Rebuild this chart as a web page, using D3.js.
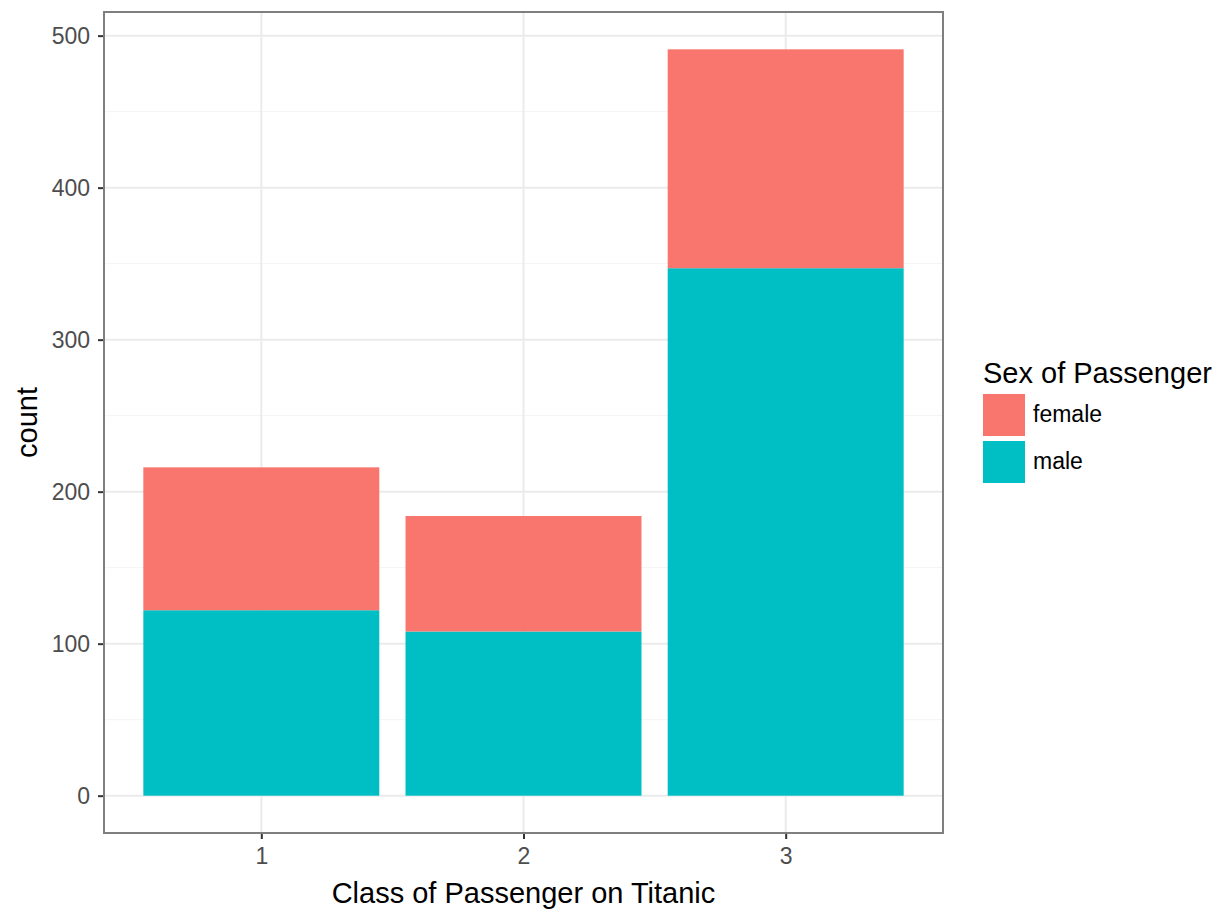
<!DOCTYPE html>
<html lang="en">
<head>
  <meta charset="UTF-8">
  <title>Titanic class by sex</title>
  <script src="https://cdn.jsdelivr.net/npm/d3@7"></script>
  <style>
    body { margin: 0; background: #fff; }
    text { font-family: "Liberation Sans", Arial, Helvetica, sans-serif; }
  </style>
</head>
<body>
  <svg id="chart"></svg>
  <script>
    // data
    var classes = ["1", "2", "3"];
    var sexes = ["female", "male"];
    var femaleCounts = [94, 76, 144];
    var maleCounts = [122, 108, 347];
    var yTicks = [0, 100, 200, 300, 400, 500];
    var colors = ["#F8766D", "#00BFC4"];

    var width = 1228, height = 921;
    var panel = { left: 104, right: 943, top: 12, bottom: 833 };
    var titleSize = "29px", textSize = "23px";

    var svg = d3.select("#chart").attr("width", width).attr("height", height);

    var rows = classes.map(function(c, i) {
      return { cls: c, female: femaleCounts[i], male: maleCounts[i] };
    });
    // male at the bottom, female stacked on top
    var stack = d3.stack().keys(["male", "female"]);
    var series = stack(rows);

    var maxTotal = d3.max(rows, function(d) { return d.male + d.female; });
    var pad = maxTotal * 0.05;
    var y = d3.scaleLinear()
        .domain([-pad, maxTotal + pad])
        .range([panel.bottom, panel.top]);

    // discrete x with 0.6 expansion each side, bar width 0.9
    var x = d3.scaleLinear()
        .domain([0.4, classes.length + 0.6])
        .range([panel.left, panel.right]);
    var barW = x(1.45) - x(1);

    var g = svg.append("g");

    // grid
    var minor = d3.range(50, maxTotal + pad, 100);
    g.selectAll(".minor").data(minor).enter().append("line")
        .attr("x1", panel.left).attr("x2", panel.right)
        .attr("y1", function(d) { return y(d); })
        .attr("y2", function(d) { return y(d); })
        .attr("stroke", "#f4f4f4").attr("stroke-width", 1);

    g.selectAll(".major").data(yTicks).enter().append("line")
        .attr("x1", panel.left).attr("x2", panel.right)
        .attr("y1", function(d) { return y(d); })
        .attr("y2", function(d) { return y(d); })
        .attr("stroke", "#ebebeb").attr("stroke-width", 2);

    g.selectAll(".vgrid").data(classes).enter().append("line")
        .attr("x1", function(d, i) { return x(i + 1); })
        .attr("x2", function(d, i) { return x(i + 1); })
        .attr("y1", panel.top).attr("y2", panel.bottom)
        .attr("stroke", "#ebebeb").attr("stroke-width", 2);

    // bars
    var stackColor = { male: colors[1], female: colors[0] };
    series.forEach(function(s) {
      g.append("g").selectAll("rect")
          .data(s)
          .enter()
          .append("rect")
          .attr("x", function(d, i) { return x(i + 1) - barW; })
          .attr("width", barW * 2)
          .attr("y", function(d) { return y(d[1]); })
          .attr("height", function(d) { return y(d[0]) - y(d[1]); })
          .attr("fill", stackColor[s.key]);
    });

    // panel border
    g.append("rect")
        .attr("x", panel.left).attr("y", panel.top)
        .attr("width", panel.right - panel.left)
        .attr("height", panel.bottom - panel.top)
        .attr("fill", "none")
        .attr("stroke", "#7f7f7f").attr("stroke-width", 2);

    // y axis
    var yAxis = d3.axisLeft(y).tickValues(yTicks).tickSize(5).tickPadding(8);
    var ya = svg.append("g")
        .attr("transform", "translate(" + (panel.left - 1) + ",0)")
        .call(yAxis);
    ya.select(".domain").remove();
    ya.selectAll(".tick line").attr("stroke", "#333").attr("stroke-width", 2);
    ya.selectAll(".tick text").attr("fill", "#4d4d4d").style("font-size", textSize)
        .attr("font-family", "Liberation Sans, Arial, sans-serif");

    // x axis
    var xAxis = d3.axisBottom(x).tickValues([1, 2, 3])
        .tickFormat(function(d) { return classes[d - 1]; })
        .tickSize(5).tickPadding(9);
    var xa = svg.append("g")
        .attr("transform", "translate(0," + (panel.bottom + 1) + ")")
        .call(xAxis);
    xa.select(".domain").remove();
    xa.selectAll(".tick line").attr("stroke", "#333").attr("stroke-width", 2);
    xa.selectAll(".tick text").attr("fill", "#4d4d4d").style("font-size", textSize)
        .attr("font-family", "Liberation Sans, Arial, sans-serif");

    // axis titles
    svg.append("text")
        .attr("x", (panel.left + panel.right) / 2)
        .attr("y", 903)
        .attr("text-anchor", "middle")
        .style("font-size", titleSize)
        .text("Class of Passenger on Titanic");

    svg.append("text")
        .attr("transform", "translate(37," + ((panel.top + panel.bottom) / 2) + ") rotate(-90)")
        .attr("text-anchor", "middle")
        .style("font-size", titleSize)
        .text("count");

    // legend
    var legend = svg.append("g").attr("transform", "translate(983,0)");
    legend.append("text")
        .attr("x", 0).attr("y", 383)
        .style("font-size", titleSize)
        .text("Sex of Passenger");

    var keys = legend.selectAll(".key").data(sexes).enter().append("g")
        .attr("transform", function(d, i) { return "translate(0," + (394 + i * 47) + ")"; });
    keys.append("rect")
        .attr("width", 42).attr("height", 42)
        .attr("fill", function(d, i) { return colors[i]; });
    keys.append("text")
        .attr("x", 50).attr("y", 28)
        .style("font-size", textSize)
        .text(function(d) { return d; });
  </script>
</body>
</html>
